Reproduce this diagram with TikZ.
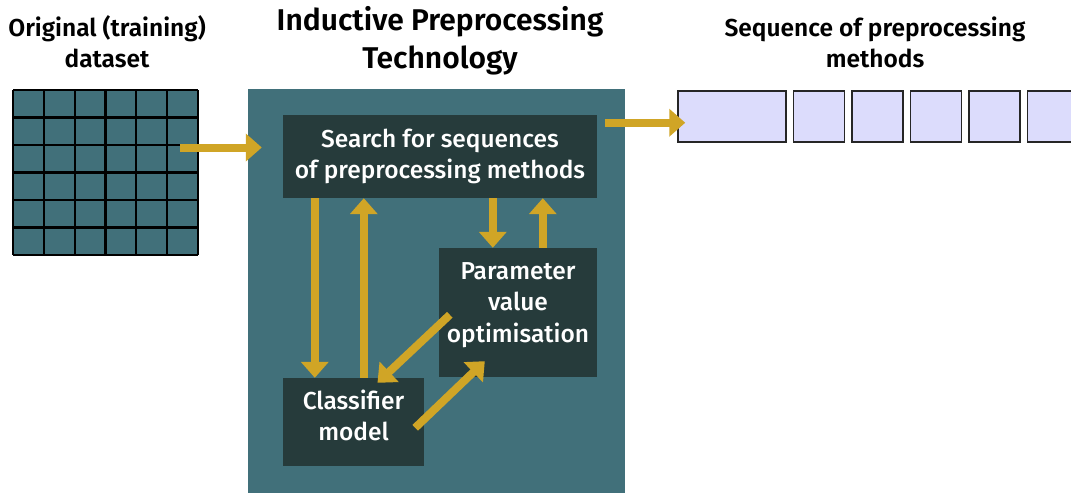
\documentclass[tikz,border=0pt]{standalone}
\usepackage{fontspec}
\setmainfont{Fira Sans}[UprightFont={* Medium}, BoldFont={* SemiBold}]
\usetikzlibrary{arrows.meta,positioning}
\definecolor{panelteal}{HTML}{41707A}
\definecolor{boxdark}{HTML}{263B3B}
\definecolor{arrowgold}{HTML}{D0A526}
\definecolor{seqfill}{HTML}{DCDCFC}
\tikzset{%
darkbox/.style={rectangle, fill=boxdark, text=white, align=center, inner sep=0pt, font=\fontsize{24.5}{31.5}\selectfont},
title/.style={align=center, font=\bfseries\fontsize{24.5}{31}\selectfont},
seqbox/.style={rectangle, draw=black!85, line width=1.5pt, fill=seqfill, minimum height=51pt, inner sep=0pt},
goldarrow/.style={draw=arrowgold, line width=8pt, -{Triangle[width=27pt,length=16pt]}}
}
\begin{document}
\begin{tikzpicture}[x=1pt,y=-1pt]
		\useasboundingbox (0,0) rectangle (1071,493);
		% titles
		\node[title] (tdata) at (107,42) {Original (training)\\dataset};
		\node[title, font=\bfseries\fontsize{30}{38}\selectfont] (ttech) at (440,41) {Inductive Preprocessing\\Technology};
		\node[title] (tseq) at (875,42) {Sequence of preprocessing\\methods};
		% input dataset grid
		\fill[panelteal] (13,90) rectangle (198,255);
		\foreach \i in {0,...,6} {
			\draw[black, line width=2.2pt] (13+\i*30.83,90) -- (13+\i*30.83,255);
			\draw[black, line width=2.2pt] (13,90+\i*27.5) -- (198,90+\i*27.5);
		}
		\node[inner sep=0pt, minimum width=185pt, minimum height=165pt] (grid) at (105.5,172.5) {};
		% panel
		\fill[panelteal] (248,89) rectangle (625,493);
		\node[inner sep=0pt, minimum width=377pt, minimum height=404pt] (panel) at (436.5,291) {};
		% boxes
		\node[darkbox, minimum width=314pt, minimum height=83pt] (search) at (440,156.5) {Search for sequences\\of preprocessing methods};
		\node[darkbox, minimum width=158pt, minimum height=129pt, text depth=20pt] (param) at (518,312.5) {Parameter\\value\\optimisation};
		\node[darkbox, minimum width=141pt, minimum height=88pt, text depth=14pt] (classif) at (353.5,422) {Classifier\\model};
		% output sequence
		\node[seqbox, minimum width=108pt] (s1) at (732,116.5) {};
		\node[seqbox, minimum width=51pt, right=6pt of s1] (s2) {};
		\node[seqbox, minimum width=51pt, right=6pt of s2] (s3) {};
		\node[seqbox, minimum width=51pt, right=6pt of s3] (s4) {};
		\node[seqbox, minimum width=51pt, right=6pt of s4] (s5) {};
		\node[seqbox, minimum width=51pt, right=6pt of s5] (s6) {};
		% arrows
		\draw[goldarrow] ([xshift=-18pt,yshift=25pt]grid.east) -- ([xshift=14pt,yshift=25pt]grid.east -| panel.west);
		\draw[goldarrow] ([xshift=-20pt]panel.east |- s1.south) ++(0,-20) coordinate (outS) -- ([xshift=8pt]outS -| s1.west);
		\draw[goldarrow] ([xshift=32pt]search.south west) -- ([xshift=32pt]search.south west |- classif.north);
		\draw[goldarrow] ([xshift=81pt]search.south west |- classif.north) -- ([xshift=81pt]search.south west);
		\draw[goldarrow] ([xshift=54pt]param.north west |- search.south) -- ([xshift=54pt]param.north west);
		\draw[goldarrow] ([xshift=104pt]param.north west) -- ([xshift=104pt]param.north west |- search.south);
		\draw[goldarrow] ([xshift=11pt,yshift=-67pt]param.north west) -- ([xshift=24pt,yshift=-5pt]classif.north);
		\draw[goldarrow] ([xshift=-9pt,yshift=-50pt]classif.north east) -- ([xshift=46pt,yshift=16pt]param.south west);
\end{tikzpicture}
\end{document}
